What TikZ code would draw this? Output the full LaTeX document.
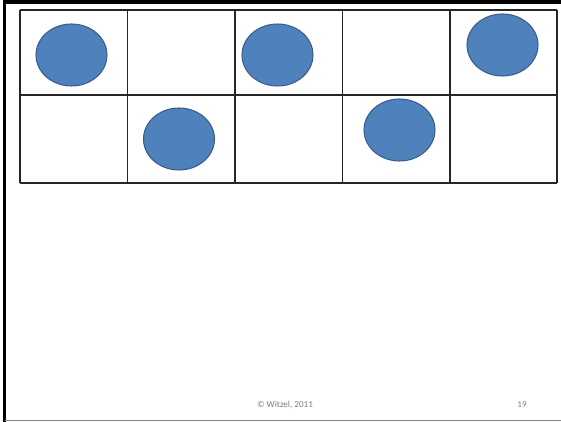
\documentclass[tikz,border=0pt]{standalone}
\usepackage{fontspec}
\setmainfont{Carlito}
\definecolor{dotblue}{HTML}{4F81BD}
\definecolor{dotedge}{HTML}{385D8A}
\definecolor{footgray}{HTML}{7F7F7F}
\tikzset{
    gridline/.style={line width=0.6pt, black!85},
    foot/.style={font=\fontsize{5.2}{6}\selectfont, text=footgray}
}
\begin{document}
\begin{tikzpicture}[x={(0.02cm,0)}, y={(0,-0.02cm)}]
            \useasboundingbox (0,0) rectangle (561,422);

            % Ramecek snimku
            \draw[line width=1.8pt, black] (4.5,422) -- (4.5,2) -- (561,2);
            \draw[line width=0.9pt, gray] (4.5,420.5) -- (561,420.5);

            % Mrizka 5 x 2
            \foreach \x in {20,127.5,235,342.5,450,557} {
                \draw[gridline] (\x,10) -- (\x,183);
            }
            \foreach \y in {10,95,183} {
                \draw[gridline] (20,\y) -- (557,\y);
            }

            % Kolecka
            \foreach \x/\y in {71.5/55, 179/139, 277.5/55, 399.5/130, 502.5/45} {
                \fill[dotblue, draw=dotedge, line width=0.6pt] (\x,\y) ellipse [x radius=0.71cm, y radius=0.62cm];
            }

            % Paticka
            \node[foot] (copy) at (285,405) {© Witzel, 2011};
            \node[foot] (page) at (522,405) {19};
        \end{tikzpicture}
\end{document}
